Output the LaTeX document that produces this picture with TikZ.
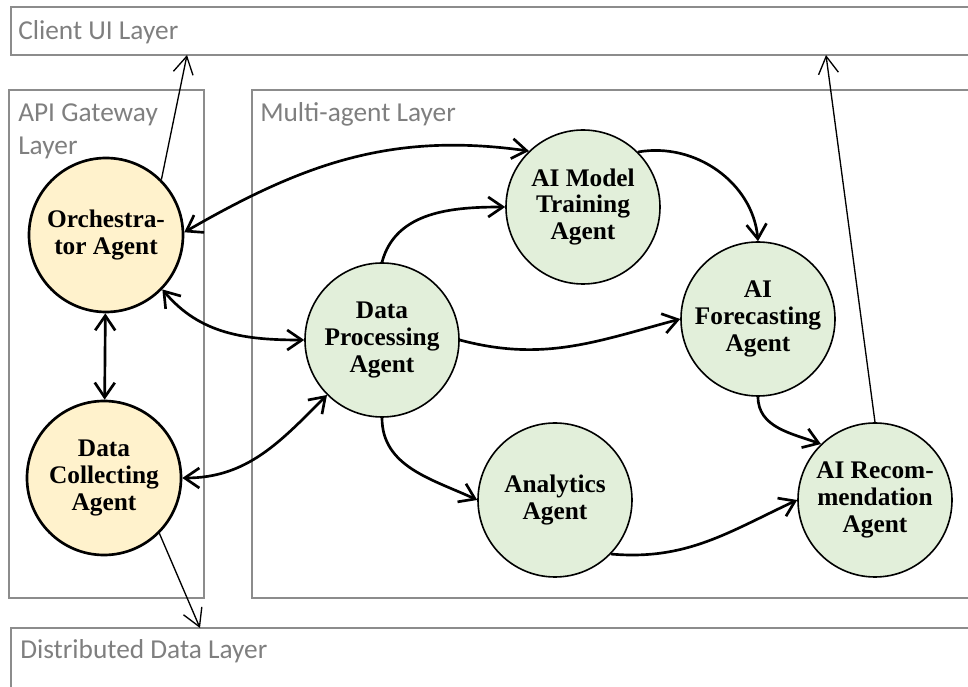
\documentclass[tikz,border=0pt]{standalone}
\usepackage{fontspec}
\setmainfont{Liberation Serif}
\newfontfamily\layerfont{Carlito}
\usetikzlibrary{arrows.meta}
\definecolor{boxgray}{HTML}{8C8C8C}
\definecolor{labelgray}{HTML}{7F7F7F}
\definecolor{gatefill}{HTML}{FFF2CC}
\definecolor{agentfill}{HTML}{E2EFDA}
\begin{document}
\begin{tikzpicture}[x=0.75pt, y=0.75pt,
    layer/.style={draw=boxgray, line width=1.3pt},
    layertext/.style={anchor=base west, inner sep=0pt, text=labelgray, align=left,
        font=\layerfont\fontsize{20.5pt}{25pt}\selectfont},
    agent/.style={circle, draw, line width=1.2pt, fill=agentfill, minimum size=115.5pt,
        inner sep=0pt, align=center, font=\bfseries\fontsize{19pt}{20pt}\selectfont},
    gate/.style={agent, fill=gatefill, line width=2pt},
    link/.style={line width=2pt, -{Straight Barb[length=11pt, width=15pt]}},
    both/.style={link, {Straight Barb[length=11pt, width=15pt]}-{Straight Barb[length=11pt, width=15pt]}},
    up/.style={line width=1pt, -{Straight Barb[length=13pt, width=15pt]}}]
    \useasboundingbox (0,0) rectangle (968,686);
    \clip (0,0) rectangle (968,686);
    % layers
    \draw[layer] (11,631) rectangle (990,679);
    \draw[layer] (9,88) rectangle (204,596);
    \draw[layer] (252,88) rectangle (990,596);
    \draw[layer] (11,-14) rectangle (990,58);
    \node[layertext] (uitext) at (18,646) {Client UI Layer};
    \node[layertext] (gatetext) at (18,531) {API Gateway\\Layer};
    \node[layertext] (multitext) at (260,564) {Multi-agent Layer};
    \node[layertext] (datatext) at (20,27) {Distributed Data Layer};
    % agents
    \node[gate] (orch) at (106,451) {Orchestra-\\tor Agent};
    \node[gate] (coll) at (104,208) {Data\\Collecting\\Agent};
    \foreach \name/\x/\y/\txt in {proc/382/346/{Data\\Processing\\Agent},
                                  train/583/479/{AI Model\\Training\\Agent},
                                  fore/758/367/{AI\\Forecasting\\Agent},
                                  anal/555/186/{Analytics\\Agent},
                                  rec/875/186/{AI Recom-\\mendation\\Agent}}
        {
            \node[agent] (\name) at (\x,\y) {\txt};
        }
    % links between agents
    \draw[both] (orch) -- (coll);
    \draw[both] (orch.2) to[out=30, in=172] (train.134);
    \draw[both] (orch.-44) to[out=-50, in=180] (proc.180);
    \draw[both] (coll.0) to[out=0, in=225] (proc.225);
    \draw[link] (proc.90) to[out=75, in=180] (train.180);
    \draw[link] (proc.0) to[out=-15, in=195] (fore.180);
    \draw[link] (proc.270) to[out=-90, in=155] (anal.180);
    \draw[link] (train.45) to[out=10, in=95] (fore.90);
    \draw[link] (fore.270) to[out=-90, in=160] (rec.134);
    \draw[link] (anal.-44) to[out=-5, in=205] (rec.180);
    % links to the outer layers
    \coordinate (uileft) at (187,631);
    \coordinate (uiright) at (826,631);
    \coordinate (datatop) at (200,58);
    \draw[up] (orch.45) -- (uileft);
    \draw[up] (rec.90) -- (uiright);
    \draw[up] (coll.-45) -- (datatop);
\end{tikzpicture}
\end{document}
